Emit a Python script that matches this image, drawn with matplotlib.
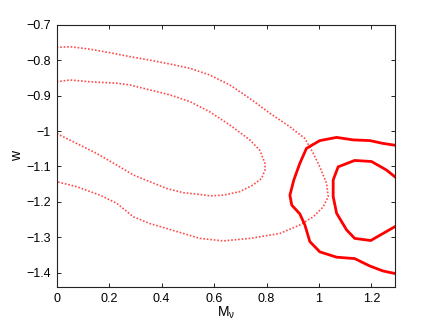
import matplotlib
matplotlib.use("Agg")
import matplotlib.pyplot as plt

# Outer dotted contour (open at left edge)
dot_outer_x = [0.000, 0.051, 0.127, 0.203, 0.279, 0.356, 0.432, 0.508, 0.584, 0.660, 0.736, 0.813,
               0.889, 0.946, 0.978, 1.003, 1.029, 1.035, 1.016, 0.978, 0.927, 0.851, 0.737, 0.635,
               0.546, 0.482, 0.419, 0.355, 0.292, 0.229, 0.165, 0.076, 0.000]
dot_outer_y = [-0.764, -0.762, -0.769, -0.779, -0.790, -0.800, -0.811, -0.823, -0.842, -0.870, -0.908, -0.950,
               -0.988, -1.021, -1.063, -1.101, -1.148, -1.185, -1.214, -1.242, -1.265, -1.289, -1.303, -1.310,
               -1.303, -1.289, -1.275, -1.261, -1.242, -1.204, -1.181, -1.157, -1.143]

# Inner dotted contour
dot_inner_x = [0.000, 0.051, 0.127, 0.229, 0.279, 0.355, 0.432, 0.508, 0.584, 0.660, 0.736, 0.774,
               0.794, 0.794, 0.781, 0.749, 0.698, 0.635, 0.584, 0.546, 0.482, 0.419, 0.355, 0.292,
               0.229, 0.152, 0.076, 0.000]
dot_inner_y = [-0.861, -0.856, -0.861, -0.865, -0.870, -0.884, -0.898, -0.917, -0.946, -0.983, -1.025, -1.054,
               -1.091, -1.110, -1.134, -1.152, -1.171, -1.181, -1.183, -1.179, -1.174, -1.162, -1.143, -1.124,
               -1.096, -1.063, -1.035, -1.007]

# Outer solid contour (open at right edge)
sol_outer_x = [1.289, 1.244, 1.194, 1.130, 1.067, 1.003, 0.952, 0.927, 0.904, 0.889, 0.896, 0.927,
               0.946, 0.965, 1.003, 1.067, 1.136, 1.194, 1.244, 1.289]
sol_outer_y = [-1.040, -1.035, -1.027, -1.025, -1.018, -1.027, -1.049, -1.091, -1.138, -1.181, -1.209, -1.234,
               -1.265, -1.312, -1.341, -1.356, -1.360, -1.381, -1.395, -1.402]

# Inner solid contour
sol_inner_x = [1.289, 1.257, 1.200, 1.136, 1.073, 1.054, 1.054, 1.067, 1.105, 1.136, 1.197, 1.244, 1.289]
sol_inner_y = [-1.129, -1.110, -1.086, -1.083, -1.101, -1.138, -1.185, -1.232, -1.279, -1.303, -1.309, -1.289, -1.270]

xticks = [0, 0.2, 0.4, 0.6, 0.8, 1.0, 1.2]
xticklabels = ["0", "0.2", "0.4", "0.6", "0.8", "1", "1.2"]
yticks = [-1.4, -1.3, -1.2, -1.1, -1.0, -0.9, -0.8, -0.7]
yticklabels = ["\u22121.4", "\u22121.3", "\u22121.2", "\u22121.1", "\u22121", "\u22120.9", "\u22120.8", "\u22120.7"]

plt.rcParams['font.family'] = ['Liberation Sans', 'DejaVu Sans']
plt.rcParams['mathtext.fontset'] = 'custom'
plt.rcParams['mathtext.rm'] = 'Liberation Sans'
plt.rcParams['mathtext.it'] = 'Liberation Sans'
fig = plt.figure(figsize=(4.36, 3.27), dpi=100)
ax = fig.add_axes([0.130, 0.1214, 0.775, 0.803])

ax.plot(dot_outer_x, dot_outer_y, color='red', lw=1.2, linestyle=(0, (1, 1.1)), alpha=0.7)
ax.plot(dot_inner_x, dot_inner_y, color='red', lw=1.2, linestyle=(0, (1, 1.1)), alpha=0.7)
ax.plot(sol_outer_x, sol_outer_y, color='red', lw=2.0, solid_joinstyle='round')
ax.plot(sol_inner_x, sol_inner_y, color='red', lw=2.0, solid_joinstyle='round')

ax.set_xlim(0, 1.288)
ax.set_ylim(-1.441, -0.7)
ax.set_xticks(xticks)
ax.set_xticklabels(xticklabels)
ax.set_yticks(yticks)
ax.set_yticklabels(yticklabels)
ax.tick_params(direction='in', top=True, right=True, length=3, width=0.6, labelsize=9, pad=4)
for s in ax.spines.values():
    s.set_linewidth(0.8)
    s.set_color('#222222')

ax.set_xlabel(r"M$_{\nu}$", fontsize=10, labelpad=0)
ax.set_ylabel("w", fontsize=10, labelpad=2)

fig.savefig("out.png", dpi=100)
